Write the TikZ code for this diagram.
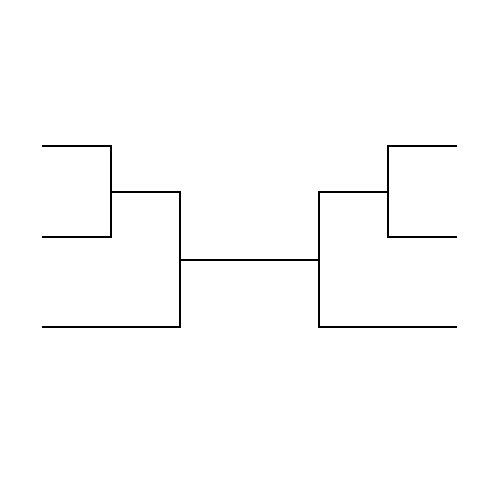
\documentclass[tikz,border=0pt]{standalone}
\usepackage{tikz}
\tikzset{bracket/.style={line width=1.7pt, black}}

\begin{document}
\begin{tikzpicture}[x=0.02cm, y=-0.02cm]
	\useasboundingbox (0,0) rectangle (500,500);
	% left half
	\coordinate (l1) at (42,146);
	\coordinate (l2) at (42,237);
	\coordinate (l3) at (42,327);
	\coordinate (ljA) at (111,192);
	\coordinate (ljB) at (180,260);
	% right half
	\coordinate (r1) at (457,146);
	\coordinate (r2) at (457,237);
	\coordinate (r3) at (457,327);
	\coordinate (rjA) at (388,192);
	\coordinate (rjB) at (319,260);

	\draw[bracket] (l1) -| (ljA) |- (l2);
	\draw[bracket] (ljA) -| (ljB) |- (l3);
	\draw[bracket] (ljB) -- (rjB);
	\draw[bracket] (r1) -| (rjA) |- (r2);
	\draw[bracket] (rjA) -| (rjB) |- (r3);
\end{tikzpicture}
\end{document}
